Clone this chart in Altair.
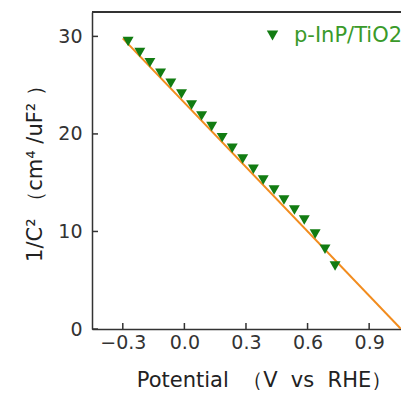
import altair as alt
import pandas as pd

# --- data ---
series_name = "p-InP/TiO2"
potential = [-0.274, -0.217, -0.168, -0.116, -0.066, -0.014, 0.035, 0.084, 0.133, 0.184,
             0.233, 0.284, 0.336, 0.384, 0.437, 0.485, 0.536, 0.584, 0.637, 0.685, 0.734]
inv_c2 = [29.47, 28.34, 27.31, 26.23, 25.20, 24.10, 22.97, 21.85, 20.75, 19.62,
          18.53, 17.44, 16.38, 15.28, 14.26, 13.23, 12.20, 11.18, 9.74, 8.17, 6.46]
fit_potential = [-0.300, 1.055]
fit_inv_c2 = [29.8, 0.0]
x_ticks = [-0.3, 0.0, 0.3, 0.6, 0.9]
y_ticks = [0, 10, 20, 30]

pts = pd.DataFrame({"x": potential, "y": inv_c2, "series": series_name})
fit = pd.DataFrame({"x": fit_potential, "y": fit_inv_c2})
xt = pd.DataFrame({"x": x_ticks})
yt = pd.DataFrame({"y": y_ticks})

W, H = 310, 317
FONT = "DejaVu Sans"
AXC = "#333333"

xs = alt.Scale(domain=[-0.45, 1.06], nice=False, zero=False)
ys = alt.Scale(domain=[0, 32.5], nice=False, zero=False)

x_axis = alt.Axis(values=x_ticks, format=".1f",
                  title="Potential\u00a0\u00a0（V\u00a0\u00a0vs\u00a0\u00a0RHE）")
y_axis = alt.Axis(values=y_ticks, format="d", title="1/C²  （cm⁴ /uF² ）")
X = alt.X("x:Q", scale=xs, axis=x_axis)
Y = alt.Y("y:Q", scale=ys, axis=y_axis)

line = alt.Chart(fit).mark_line(color="#f28c1e", strokeWidth=2, clip=True).encode(x=X, y=Y)

points = alt.Chart(pts).mark_point(shape="triangle-down", filled=True, size=120, opacity=1).encode(
    x=X, y=Y,
    color=alt.Color("series:N", scale=alt.Scale(range=["#127c12"]),
                    legend=alt.Legend(orient="none", legendX=170, legendY=13, title=None,
                                      padding=0, labelFontSize=21, labelFont=FONT,
                                      labelColor="#3a9a2a", labelOffset=11,
                                      symbolType="triangle-down", symbolSize=130,
                                      symbolStrokeWidth=0)),
)

xticks = alt.Chart(xt).mark_rule(color=AXC, strokeWidth=1.5).encode(
    x=X, y=alt.value(H), y2=alt.value(H - 6),
)
yticks = alt.Chart(yt).mark_rule(color=AXC, strokeWidth=1.5).encode(
    y=Y, x=alt.value(0), x2=alt.value(6),
)
top = alt.Chart(yt).mark_rule(color=AXC, strokeWidth=1.5).encode(
    x=alt.value(0), x2=alt.value(317), y=alt.value(0),
)

chart = alt.layer(line, points, xticks, yticks, top).properties(
    width=W, height=H,
    autosize=alt.AutoSizeParams(type="none"),
    padding={"left": 84, "top": 4, "right": -1, "bottom": 61},
).configure_view(stroke=None).configure_axis(
    ticks=False, grid=False, labelFontSize=19, labelColor=AXC, labelFont=FONT,
    domainColor=AXC, domainWidth=1.5, titleFontSize=21, titleFont=FONT,
    titleFontWeight="normal", titleColor="#222222",
).configure_axisX(
    labelPadding=4, titleX=172, titleY=51, titleBaseline="middle", titleAlign="center",
).configure_axisY(
    labelPadding=10, titleX=-57, titleY=156, titleAngle=270,
    titleBaseline="middle", titleAlign="center",
)

chart.save("out.html", embed_options={"renderer": "svg", "actions": False})
